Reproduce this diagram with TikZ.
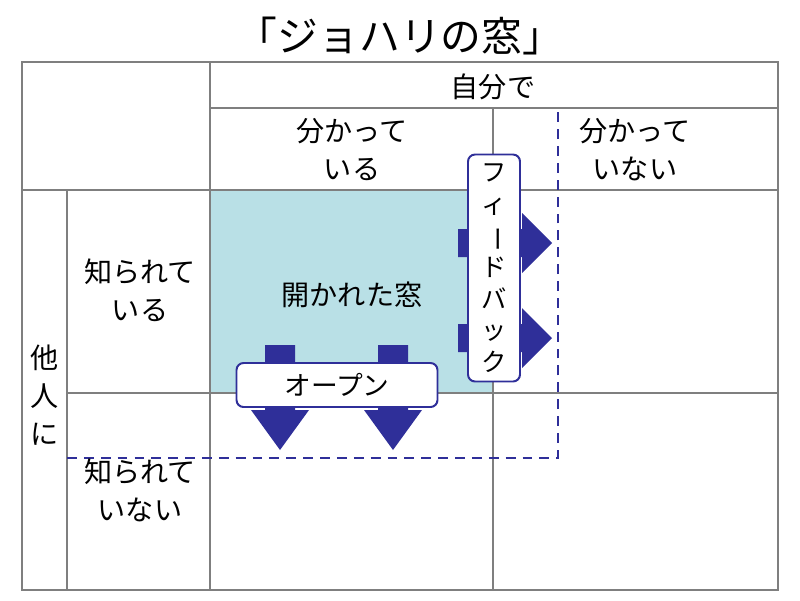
\documentclass[tikz,border=0pt]{standalone}
\usepackage{fontspec}
\setmainfont{Noto Sans CJK JP}
\usetikzlibrary{positioning,calc}
\definecolor{navy}{HTML}{2F2F99}
\definecolor{openblue}{HTML}{B9E0E6}
\definecolor{gridgray}{HTML}{7F7F7F}
\newcommand{\vch}[1]{\makebox[1.2em][c]{#1}}

\begin{document}
\begin{tikzpicture}[x=0.025cm, y=-0.025cm]
	\tikzstyle{every node}=[align=center, inner sep=1pt, font=\fontsize{20}{27}\selectfont]
	\tikzstyle{grid}=[gridgray, line width=0.8pt]
	\tikzstyle{tag}=[draw=navy, line width=1.4pt, fill=white, rounded corners=5pt]
	\tikzstyle{blk}=[fill=navy]
	\useasboundingbox (0, 0) rectangle (800, 600);

	% open window
	\fill[openblue] (210, 190) rectangle (493, 393);

	% grid
	\draw[grid] (22, 62) rectangle (778, 590);
	\draw[grid] (210, 62) -- (210, 590);
	\draw[grid] (493, 108) -- (493, 590);
	\draw[grid] (210, 108) -- (778, 108);
	\draw[grid] (22, 190) -- (778, 190);
	\draw[grid] (67, 190) -- (67, 590);
	\draw[grid] (67, 393) -- (778, 393);
	\draw[navy, line width=1.2pt, dash pattern=on 7pt off 5pt] (67, 458) -| (558, 108);

	% texts
	\node[font=\fontsize{29}{34}\selectfont] (title) at (400, 36) {「ジョハリの窓」};
	\node (self) at (493, 87) {自分で};
	\node (known) at (352, 150) {分かって\\いる};
	\node (unknown) at (635, 150) {分かって\\いない};
	\node (oknown) at (140, 290) {知られて\\いる};
	\node (ounknown) at (140, 490) {知られて\\いない};
	\node (others) at (45, 395) {他\\人\\に};
	\node (open) at (352, 295) {開かれた窓};

	% feedback arrows
	\foreach \y in {243, 338} {
		\fill[blk] (458, \y-14) -- (522, \y-14) -- (522, \y-30) -- (552, \y)
			-- (522, \y+30) -- (522, \y+14) -- (458, \y+14) -- cycle;
	}
	% open arrows
	\foreach \x in {280, 393} {
		\fill[blk] (\x-15, 345) -- (\x+15, 345) -- (\x+15, 410) -- (\x+29, 410)
			-- (\x, 450) -- (\x-29, 410) -- (\x-15, 410) -- cycle;
	}

	\node[tag, minimum width=52*0.025cm, minimum height=227*0.025cm, inner sep=0pt,
		font=\fontsize{18}{22.5}\selectfont] (feedback) at (494, 268)
		{\vch{フ}\\\vch{ィ}\\\vch{\rotatebox[origin=c]{-90}{ー}}\\\vch{ド}\\\vch{バ}\\\vch{ッ}\\\vch{ク}};
	\node[tag, minimum width=201*0.025cm, minimum height=44*0.025cm,
		font=\fontsize{19}{22}\selectfont] (openbox) at (337, 385) {オープン};
\end{tikzpicture}
\end{document}
